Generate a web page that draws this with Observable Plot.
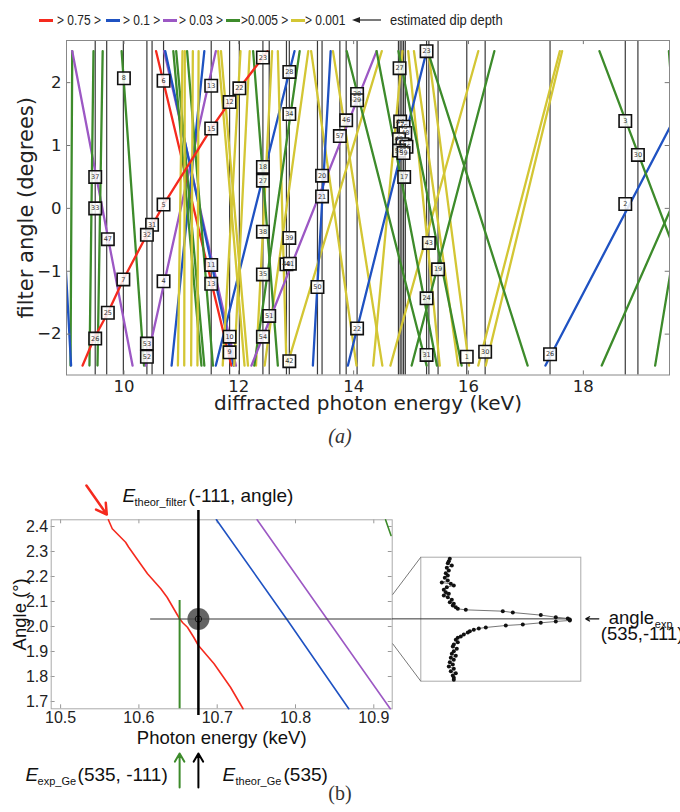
<!DOCTYPE html>
<html><head><meta charset="utf-8">
<script src="https://cdn.jsdelivr.net/npm/d3@7"></script>
<script src="https://cdn.jsdelivr.net/npm/@observablehq/plot@0.6"></script>
<style>
html,body{margin:0;padding:0;background:#fff;overflow:hidden;width:680px;height:812px}
#root{position:relative;width:680px;height:812px;}
.leg{position:absolute;font-family:'Liberation Sans',Arial,sans-serif;font-size:15px;color:#222;line-height:16px;white-space:nowrap;transform:scaleX(0.8);transform-origin:left center}
.sw{position:absolute;height:2.5px}
.cap{position:absolute;left:0;width:680px;text-align:center;font-family:'Liberation Serif','Times New Roman',serif;font-style:italic;font-size:20px;color:#333}
svg{overflow:visible}
</style></head><body><div id="root"></div>
<script>
// ---------------- Panel (a) data ----------------
const depthLabels = ["> 0.75 >", "> 0.1 >", "> 0.03 >", ">0.005 >", "> 0.001"];
const depthKeys = ["r", "b", "p", "g", "y"];
const depthColors = ["#f52a1e", "#1f52c2", "#9c58c4", "#3d8b2b", "#d3c634"];
const legendArrowText = "estimated dip depth";

const dipEnergies = [9.50, 9.70, 9.99, 10.40, 10.49, 10.69, 11.52, 11.84, 12.01, 12.42, 12.53, 12.83, 12.88,
  13.37, 13.45, 13.76, 13.87, 14.06, 14.78, 14.81, 14.84, 14.87, 14.90, 15.27, 15.31, 15.47, 15.97, 16.29,
  17.42, 18.73, 18.95];

// straight lines: depth class, energy at angle -2.5 and at angle +2.5
const lineClass = ["g","b","p","g","g","g","p","r","p","b","b","b","g","g","g",
  "y","y","y","y","y","y","y","y","y","y","y","y","y","y","y","y","y","y","y","y","y",
  "g","g","p","b","b","g","g","g","g","g","b","g","g","g","g"];
const lineEBottom = [9.07, 9.08, 10.15, 9.40, 9.54, 10.35, 10.38, 11.87, 11.95, 11.91, 10.83, 11.60, 11.40, 11.55, 11.35,
  10.94, 11.05, 11.17, 11.28, 12.10, 12.16, 11.72, 11.92, 12.30, 12.83, 12.45, 14.05, 14.50, 12.84, 14.64, 14.34, 16.01, 15.50, 15.82, 16.17, 16.30,
  12.27, 12.68, 12.22, 13.29, 13.90, 15.27, 15.45, 15.88, 17.03, 15.01, 17.34, 20.35, 18.32, 19.25, 19.90];
const lineETop = [9.10, 8.78, 9.10, 9.47, 9.63, 9.96, 11.60, 10.56, 10.70, 10.72, 11.40, 12.97, 10.91, 11.10, 10.86,
  11.02, 11.06, 11.20, 11.30, 11.64, 11.69, 12.03, 12.19, 12.58, 12.68, 13.21, 13.26, 13.64, 14.49, 16.17, 14.85, 15.30, 14.95, 15.05, 17.59, 17.63,
  13.06, 12.25, 14.40, 13.60, 15.27, 13.88, 14.40, 14.78, 15.29, 16.45, 20.20, 18.28, 20.73, 20.15, 19.49];
const lineEndAngles = [-2.5, 2.5];

// the strongest (red) reflection, read point by point
const redCurveE = [9.28, 9.48, 9.72, 9.99, 10.40, 10.50, 10.69, 11.52, 11.84, 12.01, 12.42, 12.50];
const redCurveA = [-2.5, -2.07, -1.66, -1.13, -0.42, -0.26, 0.06, 1.27, 1.69, 1.91, 2.40, 2.5];

// numbered markers
const markerE = [10.00, 10.69, 9.50, 9.50, 9.72, 9.99, 9.72, 9.50, 10.49, 10.40, 10.69, 10.69, 10.40, 10.40,
  11.52, 11.52, 11.52, 11.52, 12.42, 12.88, 12.01, 11.84, 12.88, 12.42, 12.42, 13.45, 13.45, 12.42, 12.88, 12.42,
  12.83, 12.89, 13.37, 12.53, 11.84, 11.84, 12.42, 12.88, 14.06, 14.06, 13.87, 13.76, 14.06, 14.80, 15.27,
  14.81, 14.87, 14.90, 14.79, 14.85, 14.92, 14.79, 14.87, 14.88, 18.73, 18.95, 18.73, 15.31, 15.47, 15.27, 15.27,
  15.97, 16.29, 17.42];
const markerA = [2.07, 2.03, 0.50, 0.00, -0.49, -1.13, -1.66, -2.07, -0.26, -0.42, 0.06, -1.16, -2.15, -2.36,
  1.95, 1.27, -0.90, -1.20, 2.40, 2.17, 1.91, 1.69, 1.50, 0.66, 0.44, 0.52, 0.19, -0.37, -0.47, -1.05,
  -0.89, -0.88, -1.25, -1.71, -2.04, -2.29, -2.04, -2.43, 1.82, 1.72, 1.40, 1.15, -1.91, 2.23, 2.50,
  1.38, 1.30, 1.20, 1.10, 1.02, 0.98, 0.92, 0.88, 0.50, 1.39, 0.85, 0.07, -0.55, -0.97, -1.43, -2.33,
  -2.36, -2.28, -2.32];
const markerN = [8, 6, 37, 33, 47, 7, 25, 26, 31, 32, 5, 4, 53, 52,
  13, 15, 11, 13, 23, 28, 22, 12, 34, 18, 27, 20, 21, 38, 39, 35,
  40, 41, 50, 51, 10, 9, 54, 42, 28, 29, 46, 57, 22, 27, 23,
  44, 45, 48, 49, 55, 56, 58, 59, 17, 3, 30, 2, 43, 19, 24, 31,
  1, 30, 26];

const xTicksA = [10, 12, 14, 16, 18];
const yTicksA = [-2, -1, 0, 1, 2];
const xDomainA = [9.0, 19.5];
const yDomainA = [-2.65, 2.67];

// ---------------- Panel (b) data ----------------
const redBE = [10.561, 10.566, 10.583, 10.587, 10.596, 10.611, 10.628, 10.636, 10.652, 10.656, 10.662, 10.670, 10.676, 10.696, 10.717, 10.733];
const redBA = [2.427, 2.391, 2.337, 2.317, 2.277, 2.211, 2.151, 2.117, 2.031, 2.015, 1.997, 1.957, 1.924, 1.851, 1.757, 1.671];
const blueBE = [10.699, 10.790, 10.868];
const blueBA = [2.427, 2.024, 1.671];
const purpleBE = [10.751, 10.921];
const purpleBA = [2.427, 1.671];
const greenBE = [10.915, 10.922];
const greenBA = [2.427, 2.364];
const eExpGe = 10.652;      // measured Ge energy (535,-111)
const eTheorGe = 10.676;    // theoretical Ge energy (535)
const angleExp = 2.03;      // measured filter angle
const xTicksB = [10.5, 10.6, 10.7, 10.8, 10.9];
const yTicksB = [1.7, 1.8, 1.9, 2.0, 2.1, 2.2, 2.3, 2.4];
const xDomainB = [10.488, 10.9235];
const yDomainB = [1.6708, 2.4268];
const zoomRange = [1.932, 2.127];

// inset rocking curve (signal in arb. units, angle in degrees)
const rockSignal = [29,28,27,31,26,28,25,27,24,27,21,30,33,26,23,25,28,23,27,31,29,33,32,35,37,45,82,92,120,135,147,149,
  149,135,120,102,85,65,58,53,49,47,43,40,37,35,37,33,32,36,33,31,35,30,33,29,32,28,33,30,35,32,33,33];
const rockAngle = [2.1245,2.1208,2.1176,2.1140,2.1103,2.1061,2.1019,2.0982,2.0946,2.0904,2.0872,2.0851,2.0825,2.0799,2.0757,2.0720,
  2.0694,2.0668,2.0642,2.0600,2.0563,2.0537,2.0511,2.0484,2.0458,2.0442,2.0421,2.0400,2.0359,2.0327,2.0306,2.0290,
  2.0275,2.0259,2.0238,2.0212,2.0196,2.0165,2.0149,2.0128,2.0107,2.0086,2.0054,2.0023,2.0002,1.9971,1.9934,1.9897,
  1.9866,1.9829,1.9792,1.9750,1.9719,1.9687,1.9656,1.9619,1.9583,1.9551,1.9514,1.9478,1.9446,1.9410,1.9373,1.9341];

// ---------------- build ----------------
const root = document.getElementById("root");
const colorOf = Object.fromEntries(depthKeys.map((k, i) => [k, depthColors[i]]));

// Legend
const swX = [39, 106, 163, 226, 291];
const txX = [57, 123, 179, 241, 305];
depthKeys.forEach((k, i) => {
  const s = document.createElement("div");
  s.className = "sw"; s.style.left = swX[i] + "px"; s.style.top = "19px"; s.style.width = "14px"; s.style.background = colorOf[k];
  root.appendChild(s);
  const t = document.createElement("div");
  t.className = "leg"; t.style.left = txX[i] + "px"; t.style.top = "12px"; t.textContent = depthLabels[i];
  root.appendChild(t);
});
{
  const a = document.createElementNS("http://www.w3.org/2000/svg", "svg");
  a.setAttribute("width", 30); a.setAttribute("height", 10);
  a.style.position = "absolute"; a.style.left = "352px"; a.style.top = "15px";
  a.innerHTML = '<line x1="6" y1="5" x2="29" y2="5" stroke="#222" stroke-width="1.2"/><path d="M0,5 L8,2 L8,8 Z" fill="#222"/>';
  root.appendChild(a);
  const t = document.createElement("div");
  t.className = "leg"; t.style.left = "390px"; t.style.top = "12px"; t.textContent = legendArrowText;
  t.style.transform = "scaleX(0.86)";
  root.appendChild(t);
}

// Panel (a)
const rowsA = lineClass.flatMap((c, i) => lineEndAngles.map((a, j) => ({id: i, cls: c, E: j === 0 ? lineEBottom[i] : lineETop[i], a})));
const rowsRed = redCurveE.map((E, i) => ({E, a: redCurveA[i]}));
const markers = markerE.map((E, i) => ({E, a: markerA[i], n: markerN[i]}));
const tickLenXA = 0.065, tickLenYA = 0.075;

const plotA = Plot.plot({
  width: 680, height: 400,
  marginTop: 12, marginBottom: 53.5, marginLeft: 66, marginRight: 11,
  x: {domain: xDomainA},
  y: {domain: yDomainA},
  color: {domain: depthKeys, range: depthColors},
  style: {fontFamily: "'DejaVu Sans', sans-serif", fontSize: "16.5px", background: "transparent", color: "#222"},
  marks: [
    Plot.ruleX(dipEnergies, {x: d => d, stroke: "#3a3a3a", strokeWidth: 1.2}),
    Plot.line(rowsA, {x: "E", y: "a", z: "id", stroke: "cls", strokeWidth: 2.3, clip: true}),
    Plot.line(rowsRed, {x: "E", y: "a", stroke: depthColors[0], strokeWidth: 2.3, clip: true}),
    Plot.ruleX(xTicksA, {x: d => d, y1: yDomainA[0], y2: yDomainA[0] + tickLenXA, stroke: "#777"}),
    Plot.ruleX(xTicksA, {x: d => d, y1: yDomainA[1], y2: yDomainA[1] - tickLenXA, stroke: "#777"}),
    Plot.ruleY(yTicksA, {y: d => d, x1: xDomainA[0], x2: xDomainA[0] + tickLenYA, stroke: "#777"}),
    Plot.ruleY(yTicksA, {y: d => d, x1: xDomainA[1], x2: xDomainA[1] - tickLenYA, stroke: "#777"}),
    Plot.frame({stroke: "#888"}),
    Plot.axisX({ticks: xTicksA, tickSize: 0, tickPadding: 5, tickFormat: d3.format("d"), label: null}),
    Plot.axisY({ticks: yTicksA, tickSize: 0, tickPadding: 5, tickFormat: d3.format("d"), label: null}),
    Plot.dot(markers, {x: "E", y: "a", symbol: "square", r: 7, fill: "white", fillOpacity: 0.85, stroke: "#111", strokeWidth: 1.6}),
    Plot.text(markers, {x: "E", y: "a", text: d => String(d.n), fontSize: 6.5, fill: "#333"}),
    Plot.text(["filter angle (degrees)"], {frameAnchor: "left", rotate: -90, dx: -40, textAnchor: "middle", lineAnchor: "middle", fontSize: 21, fill: "#222"}),
    Plot.text(["diffracted photon energy (keV)"], {frameAnchor: "bottom", dy: 29, textAnchor: "middle", lineAnchor: "middle", fontSize: 20, fill: "#222"})
  ]
});
plotA.style.position = "absolute"; plotA.style.left = "0px"; plotA.style.top = "28px";
root.appendChild(plotA);

const capA = document.createElement("div");
capA.className = "cap"; capA.style.top = "425px"; capA.textContent = "(a)";
root.appendChild(capA);

// Panel (b)
const B = {top: 470, height: 320, mt: 49.3, mb: 81.7, ml: 50.7, mr: 288.3};
const I = {left: 391.7, width: 288.3, mt: 86.7, mb: 109.3, ml: 28.3, mr: 100};
const insetSignalDomain = [0, 160];

const mainYB = Plot.scale({y: {domain: yDomainB, range: [B.height - B.mb, B.mt]}});
const insetY = Plot.scale({y: {domain: zoomRange, range: [B.height - I.mb, I.mt]}});
const insetX = Plot.scale({x: {domain: insetSignalDomain, range: [I.ml, I.width - I.mr]}});

const rowsRedB = redBE.map((E, i) => ({E, a: redBA[i]}));
const rowsBlueB = blueBE.map((E, i) => ({E, a: blueBA[i]}));
const rowsPurpleB = purpleBE.map((E, i) => ({E, a: purpleBA[i]}));
const rowsGreenB = greenBE.map((E, i) => ({E, a: greenBA[i]}));
const tickLenXB = 0.005, tickLenYB = 0.016;
const fontB = "'Liberation Sans', Arial, sans-serif";

const annB = {
  redArrow: {x1: 10.533, y1: 2.564, x2: 10.559, y2: 2.448},
  theorTop: 2.464, theorBottom: 1.644, greenTop: 2.104, hLineStart: 10.615,
  arrowsBottom: 1.356, arrowsTop: 1.492,
  filterTextE: 10.579, filterTextA: 2.497,
  expTextE: 10.4553, theorTextE: 10.7068, bottomTextA: 1.384
};

const plotB = Plot.plot({
  width: 680, height: B.height,
  marginTop: B.mt, marginBottom: B.mb, marginLeft: B.ml, marginRight: B.mr,
  x: {domain: xDomainB},
  y: {domain: yDomainB},
  style: {fontFamily: fontB, fontSize: "16px", background: "transparent", color: "#222"},
  marks: [
    Plot.ruleX(xTicksB, {x: d => d, y1: yDomainB[0], y2: yDomainB[0] + tickLenYB, stroke: "#999"}),
    Plot.ruleX(xTicksB, {x: d => d, y1: yDomainB[1], y2: yDomainB[1] - tickLenYB, stroke: "#999"}),
    Plot.ruleY(yTicksB, {y: d => d, x1: xDomainB[0], x2: xDomainB[0] + tickLenXB, stroke: "#999"}),
    Plot.ruleY(yTicksB, {y: d => d, x1: xDomainB[1], x2: xDomainB[1] - tickLenXB, stroke: "#999"}),
    Plot.frame({stroke: "#aaa"}),
    Plot.line(rowsRedB, {x: "E", y: "a", stroke: depthColors[0], strokeWidth: 1.6}),
    Plot.line(rowsBlueB, {x: "E", y: "a", stroke: depthColors[1], strokeWidth: 1.6}),
    Plot.line(rowsPurpleB, {x: "E", y: "a", stroke: depthColors[2], strokeWidth: 1.6}),
    Plot.line(rowsGreenB, {x: "E", y: "a", stroke: depthColors[3], strokeWidth: 1.6}),
    Plot.ruleX([eExpGe], {x: d => d, y1: annB.greenTop, y2: yDomainB[0], stroke: depthColors[3], strokeWidth: 2}),
    Plot.ruleY([angleExp], {y: d => d, x1: annB.hLineStart, x2: xDomainB[1], stroke: "#333", strokeWidth: 1}),
    Plot.dot([eTheorGe], {x: d => d, y: () => angleExp, r: 11, fill: "#4a4a4a", fillOpacity: 0.85}),
    Plot.dot([eTheorGe], {x: d => d, y: () => angleExp, r: 3.2, fill: "none", stroke: "#111", strokeWidth: 1}),
    Plot.ruleX([eTheorGe], {x: d => d, y1: annB.theorTop, y2: annB.theorBottom, stroke: "#000", strokeWidth: 2.5}),
    Plot.arrow([annB.redArrow], {x1: "x1", y1: "y1", x2: "x2", y2: "y2", stroke: depthColors[0], strokeWidth: 2.5, headLength: 9}),
    Plot.arrow([eExpGe], {x1: d => d, x2: d => d, y1: annB.arrowsBottom, y2: annB.arrowsTop, stroke: depthColors[3], strokeWidth: 2, headLength: 7}),
    Plot.arrow([eTheorGe], {x1: d => d, x2: d => d, y1: annB.arrowsBottom, y2: annB.arrowsTop, stroke: "#000", strokeWidth: 2, headLength: 7}),
    Plot.axisX({ticks: xTicksB, tickSize: 0, tickPadding: 3, tickFormat: d3.format(".1f"), label: null}),
    Plot.axisY({ticks: yTicksB, tickSize: 0, tickPadding: 3, tickFormat: d3.format(".1f"), label: null}),
    Plot.text(["Angle (°)"], {frameAnchor: "left", rotate: -90, dx: -31, textAnchor: "middle", lineAnchor: "middle", fontSize: 18.5, fill: "#111"}),
    Plot.text(["Photon energy (keV)"], {frameAnchor: "bottom", dy: 29, textAnchor: "middle", lineAnchor: "middle", fontSize: 18.5, fill: "#111"}),
    // E_theor_filter (-111, angle)
    Plot.text(["E"], {x: annB.filterTextE, y: annB.filterTextA, textAnchor: "start", lineAnchor: "bottom", fontSize: 19, fontStyle: "italic", fill: "#111"}),
    Plot.text(["theor_filter"], {x: annB.filterTextE, y: annB.filterTextA, dx: 12, dy: 4, textAnchor: "start", lineAnchor: "bottom", fontSize: 11, fill: "#111"}),
    Plot.text(["(-111, angle)"], {x: annB.filterTextE, y: annB.filterTextA, dx: 66, textAnchor: "start", lineAnchor: "bottom", fontSize: 19, fill: "#111"}),
    // E_exp_Ge (535, -111)
    Plot.text(["E"], {x: annB.expTextE, y: annB.bottomTextA, textAnchor: "start", lineAnchor: "bottom", fontSize: 19, fontStyle: "italic", fill: "#111"}),
    Plot.text(["exp_Ge"], {x: annB.expTextE, y: annB.bottomTextA, dx: 12, dy: 4, textAnchor: "start", lineAnchor: "bottom", fontSize: 11, fill: "#111"}),
    Plot.text(["(535, -111)"], {x: annB.expTextE, y: annB.bottomTextA, dx: 52, textAnchor: "start", lineAnchor: "bottom", fontSize: 19, fill: "#111"}),
    // E_theor_Ge (535)
    Plot.text(["E"], {x: annB.theorTextE, y: annB.bottomTextA, textAnchor: "start", lineAnchor: "bottom", fontSize: 19, fontStyle: "italic", fill: "#111"}),
    Plot.text(["theor_Ge"], {x: annB.theorTextE, y: annB.bottomTextA, dx: 13, dy: 4, textAnchor: "start", lineAnchor: "bottom", fontSize: 11, fill: "#111"}),
    Plot.text(["(535)"], {x: annB.theorTextE, y: annB.bottomTextA, dx: 61, textAnchor: "start", lineAnchor: "bottom", fontSize: 19, fill: "#111"})
  ]
});
plotB.style.position = "absolute"; plotB.style.left = "0px"; plotB.style.top = B.top + "px";
root.appendChild(plotB);

// Inset
const rock = rockSignal.map((s, i) => ({s, a: rockAngle[i]}));
const xEdge = insetX.invert(0);
const connectors = zoomRange.map(v => ({x1: xEdge, y1: insetY.invert(mainYB.apply(v)), x2: insetSignalDomain[0], y2: v}));
const peak = d3.max(rockSignal);
const insetText = {arrowFrom: 178, arrowTo: 165, labelX: 188, subX: 234, coordX: 180};

const plotI = Plot.plot({
  width: I.width, height: B.height,
  marginTop: I.mt, marginBottom: I.mb, marginLeft: I.ml, marginRight: I.mr,
  x: {domain: insetSignalDomain, axis: null},
  y: {domain: zoomRange, axis: null},
  style: {fontFamily: fontB, fontSize: "18px", background: "transparent", color: "#111"},
  marks: [
    Plot.frame({stroke: "#aaa"}),
    Plot.link(connectors, {x1: "x1", y1: "y1", x2: "x2", y2: "y2", stroke: "#777", strokeWidth: 1}),
    Plot.ruleY([angleExp], {y: d => d, x1: xEdge, x2: peak, stroke: "#333", strokeWidth: 1}),
    Plot.line(rock, {x: "s", y: "a", stroke: "#666", strokeWidth: 0.9}),
    Plot.dot(rock, {x: "s", y: "a", r: 2, fill: "#111"}),
    Plot.arrow([angleExp], {x1: insetText.arrowFrom, x2: insetText.arrowTo, y1: d => d, y2: d => d, stroke: "#111", strokeWidth: 1.3, headLength: 7}),
    Plot.text(["angle"], {x: insetText.labelX, y: angleExp, dy: -1, textAnchor: "start", fontSize: 18.5}),
    Plot.text(["exp"], {x: insetText.subX, y: angleExp, dy: 6, textAnchor: "start", fontSize: 11}),
    Plot.text(["(535,-111)"], {x: insetText.coordX, y: angleExp, dy: 15, textAnchor: "start", fontSize: 18.5})
  ]
});
plotI.style.position = "absolute"; plotI.style.left = I.left + "px"; plotI.style.top = B.top + "px";
root.appendChild(plotI);

const capB = document.createElement("div");
capB.className = "cap"; capB.style.top = "782px"; capB.textContent = "(b)";
capB.style.fontStyle = "normal";
root.appendChild(capB);
</script></body></html>
